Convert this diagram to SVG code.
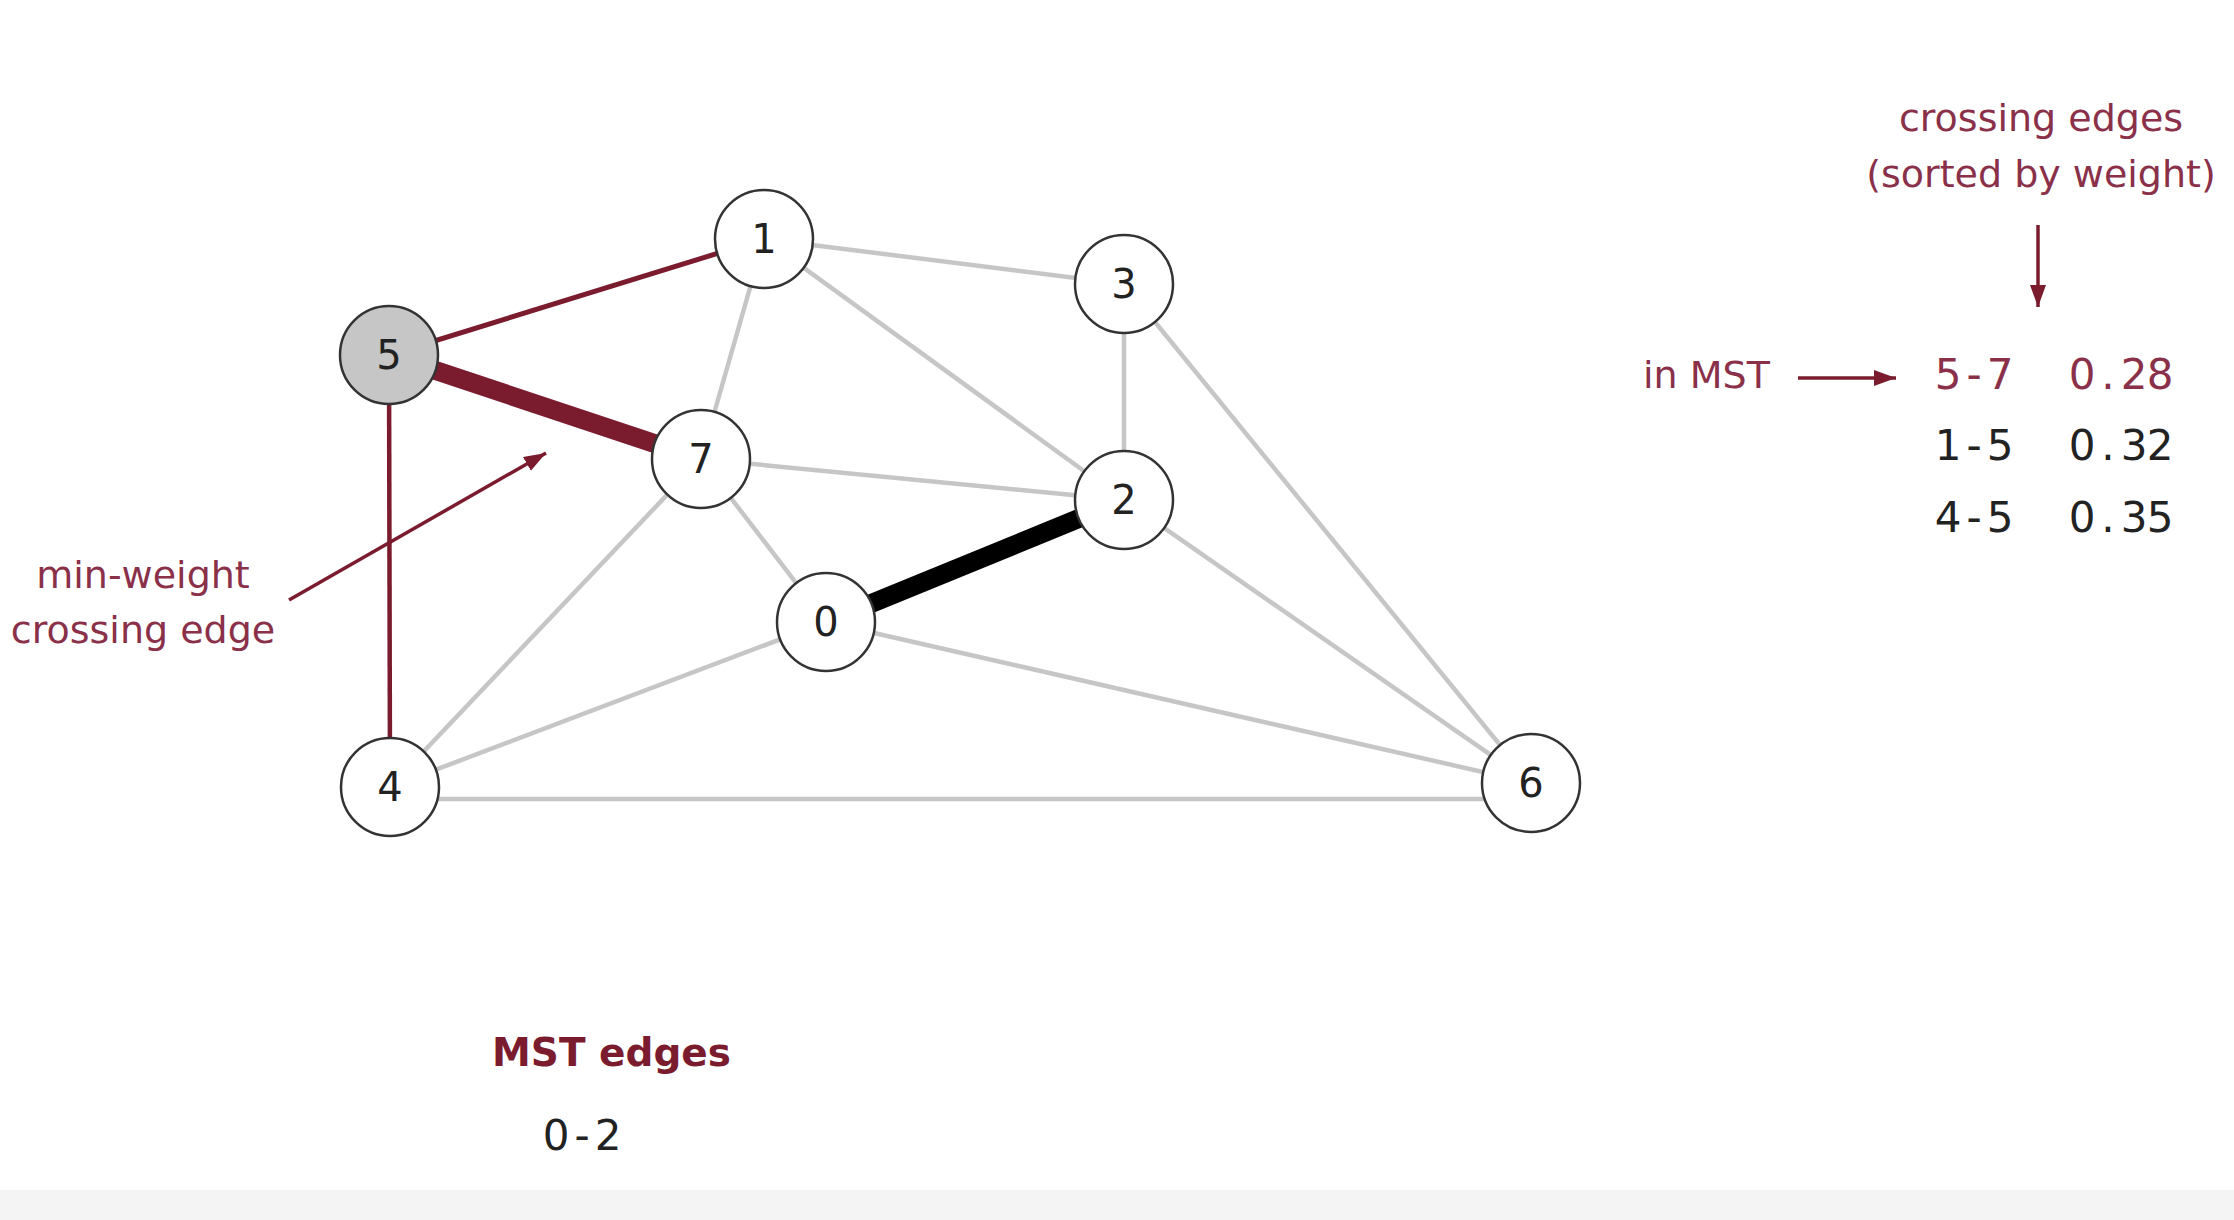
<svg xmlns="http://www.w3.org/2000/svg" width="2234" height="1220" viewBox="0 0 2234 1220">
<defs>
<style>
.e{stroke:#c6c6c6;stroke-width:4.5;fill:none;stroke-linecap:round}
.r{stroke:#7b1c2e;fill:none}
.n circle{fill:#fff;stroke:#333;stroke-width:2.5}
.n text{font-family:"DejaVu Sans","Noto Sans",sans-serif;font-size:40px;fill:#222;text-anchor:middle}
.lab{font-family:"DejaVu Sans","Noto Sans",sans-serif;font-size:38px;fill:#8a3049}
.num{font-family:"DejaVu Sans","Noto Sans",sans-serif;font-size:42px;text-anchor:middle}
</style>
<marker id="ah" viewBox="0 0 22 16" refX="22" refY="8" markerWidth="22" markerHeight="16" markerUnits="userSpaceOnUse" orient="auto">
<path d="M0,0 L22,8 L0,16 z" fill="#7b1c2e"/>
</marker>
</defs>
<rect width="2234" height="1220" fill="#fff"/>
<rect x="0" y="1190" width="2234" height="30" fill="#f4f4f4"/>
<g id="connectors">
<line class="e" x1="764" y1="239" x2="1124" y2="284"/>
<line class="e" x1="764" y1="239" x2="701" y2="459"/>
<line class="e" x1="764" y1="239" x2="1124" y2="500"/>
<line class="e" x1="1124" y1="284" x2="1124" y2="500"/>
<line class="e" x1="1124" y1="284" x2="1531" y2="783"/>
<line class="e" x1="701" y1="459" x2="1124" y2="500"/>
<line class="e" x1="701" y1="459" x2="826" y2="622"/>
<line class="e" x1="701" y1="459" x2="390" y2="787"/>
<line class="e" x1="826" y1="622" x2="390" y2="787"/>
<line class="e" x1="826" y1="622" x2="1531" y2="783"/>
<line class="e" x1="1124" y1="500" x2="1531" y2="783"/>
<line class="e" x1="390" y1="799" x2="1531" y2="799"/>
<line x1="826" y1="622" x2="1124" y2="500" stroke="#000" stroke-width="19"/>
<line class="r" x1="389" y1="355" x2="764" y2="239" stroke-width="5"/>
<line class="r" x1="389" y1="355" x2="390" y2="787" stroke-width="4.5"/>
<line class="r" x1="389" y1="355" x2="701" y2="459" stroke-width="19"/>
<line class="r" x1="289" y1="600" x2="546" y2="453" stroke-width="3.5" marker-end="url(#ah)"/>
<line class="r" x1="2038" y1="225" x2="2038" y2="307" stroke-width="3.5" marker-end="url(#ah)"/>
<line class="r" x1="1798" y1="378" x2="1896" y2="378" stroke-width="3.5" marker-end="url(#ah)"/>
</g>
<g id="node-1" class="n"><circle cx="764" cy="239" r="49"/><text x="764" y="253">1</text></g>
<g id="node-3" class="n"><circle cx="1124" cy="284" r="49"/><text x="1124" y="298">3</text></g>
<g id="node-5" class="n"><circle cx="389" cy="355" r="49" style="fill:#c6c6c6"/><text x="389" y="369">5</text></g>
<g id="node-7" class="n"><circle cx="701" cy="459" r="49"/><text x="701" y="473">7</text></g>
<g id="node-2" class="n"><circle cx="1124" cy="500" r="49"/><text x="1124" y="514">2</text></g>
<g id="node-0" class="n"><circle cx="826" cy="622" r="49"/><text x="826" y="636">0</text></g>
<g id="node-4" class="n"><circle cx="390" cy="787" r="49"/><text x="390" y="801">4</text></g>
<g id="node-6" class="n"><circle cx="1531" cy="783" r="49"/><text x="1531" y="797">6</text></g>
<g id="labels">
<text class="lab" x="2041" y="131" text-anchor="middle">crossing edges</text>
<text class="lab" x="2041" y="187" text-anchor="middle">(sorted by weight)</text>
<text class="lab" x="1643" y="388">in MST</text>
<text class="lab" x="143" y="588" text-anchor="middle">min-weight</text>
<text class="lab" x="143" y="643" text-anchor="middle">crossing edge</text>
<text class="num" x="1948 1974 2000" y="389" fill="#8a3049">5-7</text>
<text class="num" x="2082 2108 2134 2160" y="389" fill="#8a3049">0.28</text>
<text class="num" x="1948 1974 2000" y="460" fill="#222">1-5</text>
<text class="num" x="2082 2108 2134 2160" y="460" fill="#222">0.32</text>
<text class="num" x="1948 1974 2000" y="532" fill="#222">4-5</text>
<text class="num" x="2082 2108 2134 2160" y="532" fill="#222">0.35</text>
<text x="492" y="1066" font-family="DejaVu Sans,Noto Sans,sans-serif" font-weight="bold" font-size="39" fill="#7b1c2e">MST edges</text>
<text class="num" x="556 582 608" y="1150" fill="#222">0-2</text>
</g>
</svg>
